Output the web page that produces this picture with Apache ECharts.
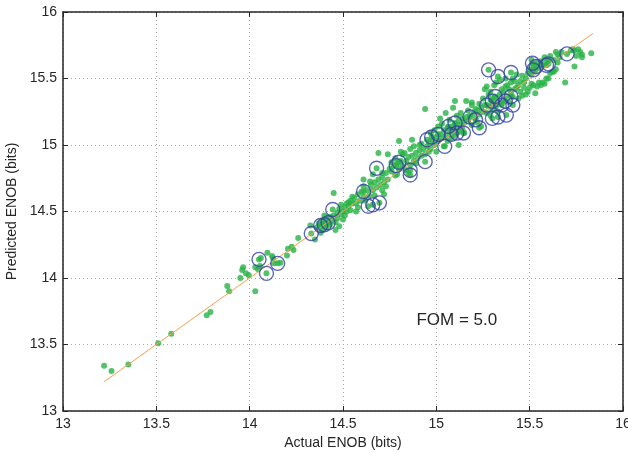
<!DOCTYPE html>
<html>
<head>
<meta charset="utf-8">
<script src="https://cdn.jsdelivr.net/npm/echarts@6/dist/echarts.min.js"></script>
<style>
  html, body { margin: 0; padding: 0; background: #fff; }
  #chart { width: 628px; height: 453px; }
</style>
</head>
<body>
<div id="chart"></div>
<script>
// Actual vs. predicted ENOB for every sample (bits)
const samples = [
  [13.22,13.34],[13.26,13.30],[13.35,13.35],[13.51,13.51],[13.58,13.58],[13.77,13.72],[13.79,13.745],
  [13.88,13.94],[13.89,13.90],[13.95,14.00],[13.96,14.06],[13.965,14.08],[13.98,14.035],[13.995,14.02],
  [14.03,13.90],[14.03,14.08],[14.045,14.065],[14.06,14.15],[14.055,14.09],[14.095,14.19],
  [14.12,14.165],[14.125,14.15],[14.13,14.11],[14.165,14.115],[14.20,14.17],[14.205,14.22],[14.225,14.235],
  [14.235,14.21],[14.26,14.30],[14.325,14.395],[14.35,14.29],
  [14.36,14.38],[14.37,14.41],[14.38,14.39],[14.39,14.43],[14.39,14.36],[14.40,14.41],[14.41,14.44],
  [14.41,14.38],[14.42,14.42],[14.43,14.46],[14.43,14.40],[14.44,14.43],[14.45,14.64],[14.45,14.47],
  [14.46,14.42],[14.47,14.49],[14.47,14.45],[14.48,14.52],[14.49,14.48],[14.49,14.55],[14.50,14.50],
  [14.51,14.53],[14.51,14.47],[14.52,14.56],[14.52,14.50],[14.53,14.54],[14.54,14.58],[14.54,14.51],
  [14.55,14.56],[14.38,14.34],[14.40,14.47],[14.46,14.36],[14.48,14.39],[14.50,14.44],[14.53,14.57],
  [14.55,14.61],[14.57,14.50],
  [14.56,14.60],[14.57,14.56],[14.58,14.63],[14.58,14.53],[14.59,14.58],[14.60,14.65],[14.61,14.61],
  [14.61,14.69],[14.62,14.58],[14.63,14.66],[14.64,14.62],[14.65,14.70],[14.66,14.66],[14.67,14.72],
  [14.67,14.62],[14.68,14.68],[14.69,14.74],[14.69,14.94],[14.70,14.70],[14.71,14.76],[14.71,14.66],
  [14.72,14.72],[14.73,14.79],[14.73,14.69],[14.74,14.74],[14.74,14.93],[14.75,14.82],[14.61,14.74],
  [14.66,14.78],[14.72,14.63],[14.645,14.725],[14.71,14.79],
  [14.76,14.80],[14.76,14.87],[14.77,14.84],[14.78,14.77],[14.78,14.90],[14.79,14.86],[14.80,15.03],
  [14.80,14.82],[14.81,14.88],[14.81,14.95],[14.82,14.84],[14.82,14.93],[14.83,14.94],[14.84,14.88],
  [14.84,14.81],[14.85,14.91],[14.86,14.85],[14.86,14.97],[14.87,14.92],[14.87,15.04],[14.88,14.88],
  [14.88,14.99],[14.89,14.94],[14.90,14.90],[14.91,14.96],[14.91,15.00],[14.92,14.92],[14.92,15.01],
  [14.93,14.97],[14.94,15.27],[14.94,14.93],[14.95,14.99],[14.79,14.78],[14.85,14.79],[14.89,14.86],
  [14.96,14.95],
  [14.96,15.02],[14.97,14.97],[14.97,15.09],[14.98,15.04],[14.99,15.00],[14.99,15.11],[15.00,15.06],
  [15.01,15.03],[15.01,15.14],[15.02,15.08],[15.03,15.05],[15.03,15.16],[15.04,15.11],[15.04,14.99],
  [15.05,15.07],[15.06,15.13],[15.06,15.03],[15.07,15.10],[15.07,15.19],[15.08,15.14],[15.08,15.05],
  [15.09,15.11],[15.10,15.16],[15.10,15.33],[15.10,15.07],[15.11,15.13],[15.11,15.22],[15.12,15.10],
  [15.12,15.18],[15.13,15.15],[15.13,15.24],[15.14,15.12],[15.14,15.20],[15.15,15.17],[15.15,15.09],
  [15.02,15.20],[15.05,15.24],[15.09,15.28],[15.00,14.95],[15.12,15.00],[15.16,15.33],[15.19,15.32],
  [15.16,15.21],[15.17,15.18],[15.17,15.26],[15.18,15.22],[15.19,15.30],[15.19,15.15],[15.20,15.24],
  [15.21,15.20],[15.21,15.27],[15.22,15.26],[15.22,15.17],[15.23,15.23],[15.23,15.31],[15.24,15.28],
  [15.24,15.14],[15.25,15.25],[15.25,15.35],[15.26,15.42],[15.26,15.30],[15.27,15.44],[15.27,15.24],
  [15.28,15.38],[15.28,15.29],[15.29,15.40],[15.29,15.34],[15.29,15.22],[15.30,15.31],[15.30,15.26],
  [15.31,15.45],[15.31,15.36],[15.32,15.47],[15.32,15.29],[15.33,15.33],[15.33,15.25],[15.34,15.49],
  [15.34,15.38],[15.35,15.31],[15.35,15.42],
  [15.36,15.40],[15.36,15.34],[15.37,15.50],[15.37,15.44],[15.38,15.37],[15.38,15.45],[15.39,15.32],
  [15.39,15.42],[15.40,15.47],[15.40,15.39],[15.41,15.36],[15.41,15.50],[15.42,15.48],[15.42,15.42],
  [15.43,15.43],[15.43,15.53],[15.44,15.35],[15.44,15.45],[15.45,15.48],[15.45,15.40],[15.46,15.37],
  [15.46,15.52],[15.47,15.47],[15.47,15.43],[15.48,15.50],[15.48,15.38],[15.49,15.40],[15.49,15.54],
  [15.50,15.43],[15.50,15.57],[15.51,15.53],[15.51,15.46],[15.52,15.45],[15.52,15.60],[15.53,15.39],
  [15.53,15.56],[15.54,15.62],[15.54,15.44],[15.55,15.47],[15.55,15.58],[15.51,15.64],
  [15.56,15.45],[15.56,15.63],[15.57,15.47],[15.57,15.60],[15.58,15.46],[15.58,15.66],[15.59,15.50],
  [15.59,15.62],[15.60,15.50],[15.60,15.64],[15.61,15.54],[15.61,15.67],[15.62,15.55],[15.63,15.55],
  [15.63,15.64],[15.64,15.70],[15.64,15.57],[15.65,15.68],[15.65,15.62],[15.66,15.66],[15.67,15.70],
  [15.69,15.47],[15.72,15.71],[15.73,15.72],[15.74,15.59],[15.74,15.71],[15.75,15.67],[15.76,15.72],
  [15.77,15.70],[15.78,15.68],[15.78,15.66],[15.83,15.69]
];

// Samples marked with a ring (validation set)
const ringed = [
  [14.05,14.14],[14.09,14.035],[14.15,14.11],[14.33,14.335],[14.38,14.395],[14.40,14.40],[14.42,14.415],
  [14.445,14.515],[14.61,14.65],[14.635,14.54],[14.66,14.55],[14.695,14.565],[14.68,14.825],
  [14.785,14.845],[14.80,14.87],[14.86,14.81],[14.86,14.775],[14.94,14.875],[14.95,15.04],[14.975,15.06],
  [15.01,15.08],[15.045,14.99],[15.065,15.14],[15.10,15.165],[15.08,15.08],[15.11,15.09],[15.145,15.09],
  [15.18,15.21],[15.21,15.19],[15.23,15.13],[15.27,15.30],[15.30,15.33],[15.315,15.365],[15.30,15.20],
  [15.33,15.21],[15.35,15.30],[15.37,15.33],[15.40,15.365],[15.41,15.30],[15.375,15.225],[15.28,15.565],
  [15.33,15.515],[15.40,15.545],[15.515,15.615],[15.52,15.565],[15.535,15.59],[15.59,15.60],[15.60,15.61],
  [15.70,15.685]
];

// Ideal prediction line, predicted = actual
const idealLine = [[13.22,13.22],[15.84,15.84]];

const axisTicks = [13, 13.5, 14, 14.5, 15, 15.5, 16];
const fomText = 'FOM = 5.0';
const fomAt = [15.11, 13.68];

const FONT = '"Liberation Sans", Arial, Helvetica, sans-serif';
const INK = '#262626';

const chart = echarts.init(document.getElementById('chart'), null, { renderer: 'canvas' });

function boxAxis(pos, isMain) {
  return {
    type: 'value',
    position: pos,
    min: axisTicks[0],
    max: axisTicks[axisTicks.length - 1],
    interval: 0.5,
    axisLine: { show: true, onZero: false, lineStyle: { color: INK, width: 1.5 } },
    axisTick: { show: true, inside: true, length: 5, lineStyle: { color: INK, width: 1 } },
    axisLabel: {
      show: isMain, color: INK, fontSize: 14, fontFamily: FONT, margin: 6,
      formatter: v => String(+v.toFixed(1))
    },
    splitLine: isMain ? { show: true, lineStyle: { color: '#a8a8a8', type: [1, 3], width: 1 } } : { show: false }
  };
}

const xMain = boxAxis('bottom', true);
xMain.name = 'Actual ENOB (bits)';
xMain.nameLocation = 'middle';
xMain.nameGap = 23;
xMain.nameTextStyle = { color: INK, fontSize: 14, fontFamily: FONT };

const yMain = boxAxis('left', true);
yMain.name = 'Predicted ENOB (bits)';
yMain.nameLocation = 'middle';
yMain.nameGap = 32;
yMain.nameTextStyle = { color: INK, fontSize: 14, fontFamily: FONT };

chart.setOption({
  animation: false,
  backgroundColor: '#fff',
  grid: { left: 63, right: 5, top: 12, bottom: 42, containLabel: false, outerBoundsMode: 'none' },
  xAxis: [xMain, boxAxis('top', false)],
  yAxis: [yMain, boxAxis('right', false)],
  series: [
    {
      type: 'scatter',
      data: samples.concat(ringed),
      symbol: 'circle',
      symbolSize: 6,
      itemStyle: { color: '#28b346' },
      z: 2
    },
    {
      type: 'line',
      data: idealLine,
      showSymbol: false,
      lineStyle: { color: '#f7a04f', width: 1 },
      z: 3
    },
    {
      type: 'scatter',
      data: ringed,
      symbol: 'circle',
      symbolSize: 14,
      itemStyle: { color: 'rgba(0,0,0,0)', borderColor: '#3443a3', borderWidth: 1.4 },
      z: 4
    }
  ]
});

const fomPx = chart.convertToPixel({ gridIndex: 0 }, fomAt);
chart.setOption({
  graphic: [{
    type: 'text',
    x: fomPx[0], y: fomPx[1],
    style: { text: fomText, fill: INK, font: '17px ' + FONT, align: 'center', verticalAlign: 'middle' }
  }]
});
</script>
</body>
</html>
